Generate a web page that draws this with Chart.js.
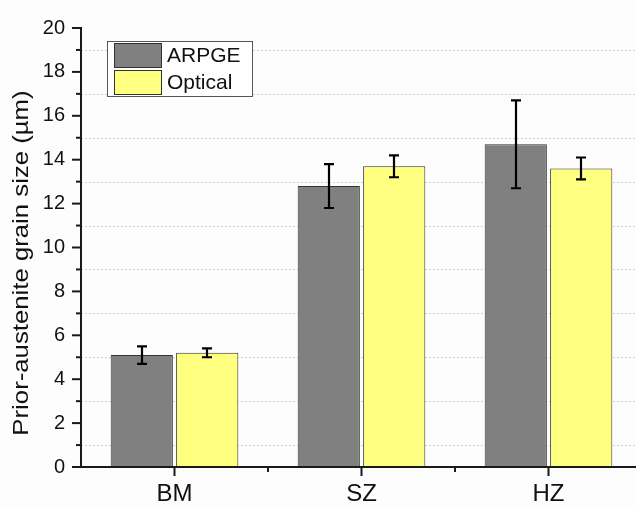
<!DOCTYPE html>
<html>
<head>
<meta charset="utf-8">
<script src="https://cdn.jsdelivr.net/npm/chart.js@4/dist/chart.umd.min.js"></script>
<style>
  html, body { margin: 0; padding: 0; background: #fdfdfd; overflow: hidden; }
  #wrap { width: 642px; height: 507px; position: relative; }
</style>
</head>
<body>
<div id="wrap"><canvas id="c" width="642" height="507"></canvas></div>
<script>
const categories = ['BM', 'SZ', 'HZ'];
const seriesNames = ['ARPGE', 'Optical'];
const arpgeValues = [5.1, 12.8, 14.7];
const arpgeErrors = [0.4, 1.0, 2.0];
const opticalValues = [5.2, 13.7, 13.6];
const opticalErrors = [0.2, 0.5, 0.5];
const yTicks = [0, 2, 4, 6, 8, 10, 12, 14, 16, 18, 20];
const yTitle = 'Prior-austenite grain size (µm)';

const FONT = "'Liberation Sans', Arial, sans-serif";
const AXIS = '#1a1a1a';

const decorPlugin = {
  id: 'decor',
  beforeDatasetsDraw(chart) {
    const ctx = chart.ctx, a = chart.chartArea, y = chart.scales.y;
    ctx.save();
    ctx.strokeStyle = '#d2d2d2';
    ctx.lineWidth = 1;
    ctx.setLineDash([2, 2]);
    for (let v = 1; v < 20; v += 2) {
      const py = Math.round(y.getPixelForValue(v)) + 0.5;
      ctx.beginPath(); ctx.moveTo(a.left, py); ctx.lineTo(a.right, py); ctx.stroke();
    }
    ctx.restore();
  },
  afterDatasetsDraw(chart) {
    const ctx = chart.ctx, a = chart.chartArea, y = chart.scales.y, x = chart.scales.x;
    ctx.save();
    // error bars
    ctx.strokeStyle = '#000';
    ctx.lineWidth = 2.2;
    chart.data.datasets.forEach((ds, di) => {
      const meta = chart.getDatasetMeta(di);
      meta.data.forEach((bar, i) => {
        const v = ds.data[i], e = ds.errors[i];
        const cx = Math.round(bar.x);
        const yt = y.getPixelForValue(v + e), yb = y.getPixelForValue(v - e);
        ctx.beginPath();
        ctx.moveTo(cx, yt); ctx.lineTo(cx, yb);
        ctx.moveTo(cx - 5, yt); ctx.lineTo(cx + 5, yt);
        ctx.moveTo(cx - 5, yb); ctx.lineTo(cx + 5, yb);
        ctx.stroke();
      });
    });
    // axes
    ctx.strokeStyle = AXIS;
    ctx.lineWidth = 2;
    ctx.beginPath();
    ctx.moveTo(a.left, a.top - 1); ctx.lineTo(a.left, a.bottom + 1);
    ctx.moveTo(a.left - 1, a.bottom); ctx.lineTo(a.right, a.bottom);
    ctx.stroke();
    // y ticks
    for (let v = 0; v <= 20; v++) {
      const py = y.getPixelForValue(v);
      const len = v % 2 === 0 ? 9 : 5;
      ctx.beginPath(); ctx.moveTo(a.left - len, py); ctx.lineTo(a.left, py); ctx.stroke();
    }
    // x ticks
    categories.forEach((c, i) => {
      const px = x.getPixelForValue(i);
      ctx.beginPath(); ctx.moveTo(px, a.bottom); ctx.lineTo(px, a.bottom + 9); ctx.stroke();
      if (i > 0) {
        const bx = (x.getPixelForValue(i - 1) + px) / 2;
        ctx.beginPath(); ctx.moveTo(bx, a.bottom); ctx.lineTo(bx, a.bottom + 5); ctx.stroke();
      }
    });
    // legend
    const lx = 107, ly = 41, lw = 145, lh = 55;
    ctx.fillStyle = '#ffffff';
    ctx.fillRect(lx, ly, lw, lh);
    ctx.lineWidth = 1;
    ctx.strokeStyle = '#555';
    ctx.strokeRect(lx + 0.5, ly + 0.5, lw, lh);
    chart.data.datasets.forEach((ds, di) => {
      const sy = ly + 2 + di * 27;
      ctx.fillStyle = ds.backgroundColor;
      ctx.fillRect(114, sy, 47, 24);
      ctx.strokeStyle = '#333';
      ctx.strokeRect(114.5, sy + 0.5, 47, 24);
      ctx.fillStyle = '#111';
      ctx.font = '21px ' + FONT;
      ctx.textBaseline = 'middle';
      ctx.textAlign = 'left';
      ctx.fillText(ds.label, 167, sy + 13);
    });
    // y title
    ctx.translate(28, 263);
    ctx.rotate(-Math.PI / 2);
    ctx.scale(1.17, 1);
    ctx.fillStyle = '#111';
    ctx.font = '22px ' + FONT;
    ctx.textAlign = 'center';
    ctx.textBaseline = 'alphabetic';
    ctx.fillText(yTitle, 0, 0);
    ctx.restore();
  }
};

new Chart(document.getElementById('c'), {
  type: 'bar',
  data: {
    labels: categories,
    datasets: [
      { label: seriesNames[0], data: arpgeValues, errors: arpgeErrors,
        backgroundColor: '#808080', borderColor: '#333333', borderWidth: 1 },
      { label: seriesNames[1], data: opticalValues, errors: opticalErrors,
        backgroundColor: '#ffff80', borderColor: '#333333', borderWidth: 1 }
    ]
  },
  options: {
    responsive: false,
    animation: false,
    devicePixelRatio: 1,
    layout: { padding: { top: 18, right: 0, left: 0, bottom: 0 } },
    plugins: { legend: { display: false }, tooltip: { enabled: false } },
    datasets: { bar: { categoryPercentage: 0.70, barPercentage: 0.95 } },
    scales: {
      x: {
        grid: { display: false, drawTicks: false },
        border: { display: false },
        ticks: { color: '#111', font: { family: FONT, size: 24 }, padding: 13 },
        afterFit(s) { s.height = 40; }
      },
      y: {
        min: 0, max: 20,
        afterBuildTicks(s) { s.ticks = yTicks.map(v => ({ value: v })); },
        grid: { display: false, drawTicks: false },
        border: { display: false },
        ticks: { color: '#111', font: { family: FONT, size: 20 }, padding: 16 },
        afterFit(s) { s.width = 81; }
      }
    }
  },
  plugins: [decorPlugin]
});
</script>
</body>
</html>
